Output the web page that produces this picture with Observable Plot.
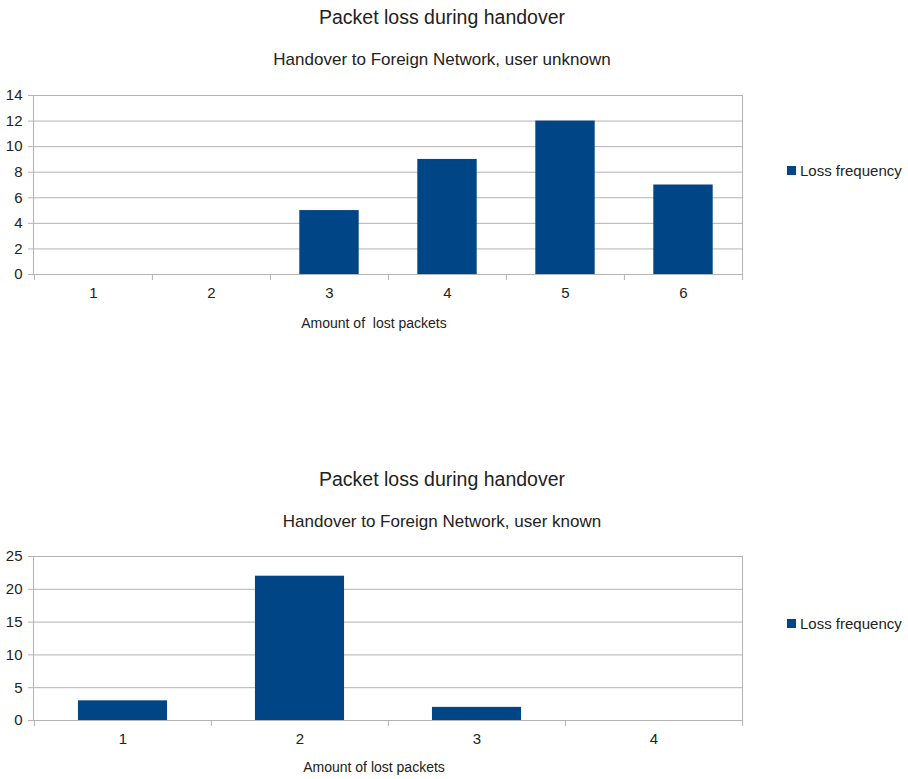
<!DOCTYPE html>
<html><head><meta charset="utf-8">
<script src="https://cdn.jsdelivr.net/npm/d3@7"></script>
<script src="https://cdn.jsdelivr.net/npm/@observablehq/plot@0.6"></script>
<style>
body{margin:0;background:#fff;font-family:"Liberation Sans",Arial,sans-serif;}
#root{position:relative;width:908px;height:779px;overflow:hidden;background:#fff}
.t{position:absolute;white-space:pre;color:#222;line-height:1}
.c{transform:translateX(-50%)}
#root svg{position:absolute;left:0;overflow:visible}
.sw{position:absolute;width:9px;height:9px;background:#004586}
</style></head><body><div id="root"></div>
<script>
// ---- data ----
const seriesName = "Loss frequency";
const barColor = "#004586";

const topTitle = "Packet loss during handover";
const topSubtitle = "Handover to Foreign Network, user unknown";
const topXLabel = "Amount of  lost packets";
const topCategories = ["1", "2", "3", "4", "5", "6"];
const topValues = [0, 0, 5, 9, 12, 7];
const topYTicks = [0, 2, 4, 6, 8, 10, 12, 14];

const bottomTitle = "Packet loss during handover";
const bottomSubtitle = "Handover to Foreign Network, user known";
const bottomXLabel = "Amount of lost packets";
const bottomCategories = ["1", "2", "3", "4"];
const bottomValues = [3, 22, 2, 0];
const bottomYTicks = [0, 5, 10, 15, 20, 25];

// ---- drawing ----
const W = 908, ML = 33, MR = 166;
const grid = "#b3b3b3";
const root = document.getElementById("root");

function addText(txt, x, baseline, size, center) {
  const d = document.createElement("div");
  d.className = "t" + (center ? " c" : "");
  d.textContent = txt;
  d.style.fontSize = size + "px";
  d.style.left = x + "px";
  d.style.top = (baseline - 0.8465 * size) + "px";
  root.appendChild(d);
}

function chart(cats, vals, ticks, top, height, mt, mb) {
  const data = cats.map((c, i) => ({cat: c, value: vals[i]}));
  const bw = (W - ML - MR) / cats.length;
  const inset = bw * 0.248;
  const p = Plot.plot({
    width: W, height, marginLeft: ML, marginRight: MR, marginTop: mt, marginBottom: mb,
    style: {fontFamily: "'Liberation Sans', Arial, sans-serif", fontSize: "15px", background: "transparent", color: "#222"},
    x: {domain: cats, padding: 0, label: null},
    y: {domain: [ticks[0], ticks[ticks.length - 1]], label: null},
    marks: [
      Plot.gridY(ticks, {stroke: grid, strokeOpacity: 1}),
      Plot.barY(data, {x: "cat", y: "value", fill: barColor, insetLeft: inset, insetRight: inset}),
      Plot.frame({stroke: grid}),
      Plot.ruleX(data, {x: "cat", dx: -bw / 2, y1: 0, y2: 0, insetBottom: -6, stroke: grid}),
      Plot.ruleX(data.slice(-1), {x: "cat", dx: bw / 2, y1: 0, y2: 0, insetBottom: -6, stroke: grid}),
      Plot.axisY(ticks, {tickSize: 5, text: null, stroke: grid}),
      Plot.axisY(ticks, {tickSize: 0, tickPadding: 11, fill: "#222"}),
      Plot.axisX(cats, {tickSize: 0, tickPadding: 13, fill: "#222", fontSize: 15})
    ]
  });
  p.style.top = top + "px";
  root.appendChild(p);
}

// top chart
addText(topTitle, 442, 25, 19.5, true);
addText(topSubtitle, 442, 65, 17, true);
chart(topCategories, topValues, topYTicks, 0, 340, 95, 66);
addText(topXLabel, 374, 328, 14, true);
{
  const s = document.createElement("div"); s.className = "sw";
  s.style.left = "787px"; s.style.top = "166px"; root.appendChild(s);
  addText(seriesName, 800, 176, 15, false);
}

// bottom chart
addText(bottomTitle, 442, 487, 19.5, true);
addText(bottomSubtitle, 442, 527, 17, true);
chart(bottomCategories, bottomValues, bottomYTicks, 540, 239, 16, 59);
addText(bottomXLabel, 374, 772, 14, true);
{
  const s = document.createElement("div"); s.className = "sw";
  s.style.left = "787px"; s.style.top = "619px"; root.appendChild(s);
  addText(seriesName, 800, 629, 15, false);
}
</script></body></html>
